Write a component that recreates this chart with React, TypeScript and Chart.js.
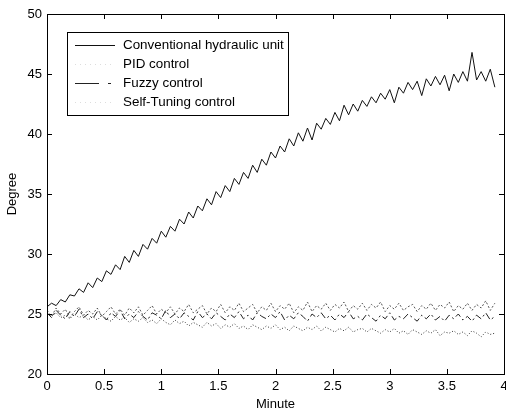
import React, { useEffect, useRef } from "react";
import { Chart, registerables } from "chart.js";
Chart.register(...registerables);

const times = [
  0, 0.04, 0.08, 0.12, 0.16, 0.2, 0.24, 0.28, 0.32, 0.36,
  0.4, 0.44, 0.48, 0.52, 0.56, 0.6, 0.64, 0.68, 0.72, 0.76,
  0.8, 0.84, 0.88, 0.92, 0.96, 1, 1.04, 1.08, 1.12, 1.16,
  1.2, 1.24, 1.28, 1.32, 1.36, 1.4, 1.44, 1.48, 1.52, 1.56,
  1.6, 1.64, 1.68, 1.72, 1.76, 1.8, 1.84, 1.88, 1.92, 1.96,
  2, 2.04, 2.08, 2.12, 2.16, 2.2, 2.24, 2.28, 2.32, 2.36,
  2.4, 2.44, 2.48, 2.52, 2.56, 2.6, 2.64, 2.68, 2.72, 2.76,
  2.8, 2.84, 2.88, 2.92, 2.96, 3, 3.04, 3.08, 3.12, 3.16,
  3.2, 3.24, 3.28, 3.32, 3.36, 3.4, 3.44, 3.48, 3.52, 3.56,
  3.6, 3.64, 3.68, 3.72, 3.76, 3.8, 3.84, 3.88, 3.92,
];

const conventional = [
  25.6, 25.9, 25.7, 26.2, 26.0, 26.6, 26.5, 27.1, 26.8, 27.6,
  27.2, 28.0, 27.7, 28.6, 28.3, 29.1, 28.7, 29.8, 29.3, 30.3,
  29.8, 30.8, 30.4, 31.3, 30.9, 31.9, 31.4, 32.3, 31.9, 32.9,
  32.5, 33.5, 33.0, 34.0, 33.6, 34.6, 34.1, 35.2, 34.7, 35.7,
  35.2, 36.3, 35.8, 36.8, 36.3, 37.4, 36.8, 37.9, 37.4, 38.5,
  38.0, 39.0, 38.5, 39.6, 39.0, 40.1, 39.4, 40.5, 39.5, 40.9,
  40.4, 41.3, 40.8, 41.8, 41.1, 42.4, 41.6, 42.5, 41.9, 42.8,
  42.3, 43.1, 42.6, 43.4, 42.9, 43.7, 42.6, 43.9, 43.4, 44.3,
  43.7, 44.4, 43.2, 44.6, 44.0, 44.8, 44.1, 44.9, 43.6, 45.0,
  44.3, 45.2, 44.4, 46.8, 44.5, 45.2, 44.4, 45.4, 43.9,
];

const pid = [
  25.3, 24.8, 25.5, 25.0, 25.4, 24.7, 25.2, 25.6, 24.9, 25.3,
  25.0, 25.5, 24.8, 25.2, 25.6, 25.0, 25.4, 24.9, 25.5, 25.1,
  25.6, 24.9, 25.3, 25.7, 25.0, 25.4, 25.1, 25.6, 25.0, 25.5,
  25.2, 25.8, 25.1, 25.4, 25.7, 25.0, 25.5, 25.2, 25.8, 25.1,
  25.6, 25.3, 25.9, 25.2, 25.5, 25.8, 25.1, 25.6, 25.3, 25.9,
  25.2, 25.7, 25.4, 25.9, 25.1, 25.6, 25.3, 26.0, 25.2, 25.7,
  25.4, 25.9, 25.3, 25.8, 25.5, 26.0, 25.2, 25.7, 25.4, 25.9,
  25.3, 25.8, 25.5, 26.0, 25.2, 25.7, 25.4, 25.9, 25.3, 25.6,
  25.8, 25.2, 25.7, 25.4, 25.9, 25.3, 25.8, 25.5, 26.0, 25.2,
  25.7, 25.4, 25.9, 25.3, 25.8, 25.5, 26.1, 25.3, 25.9,
];

const fuzzy = [
  25.1, 24.7, 25.3, 24.9, 24.6, 25.2, 24.8, 25.4, 24.7, 25.0,
  24.6, 25.2, 24.9, 24.5, 25.1, 24.8, 25.3, 24.6, 25.0, 24.7,
  25.2, 24.8, 24.5, 25.1, 24.9, 24.6, 25.3, 24.7, 25.0, 24.6,
  25.1, 24.8, 24.5, 25.2, 24.7, 25.0, 24.6, 25.1, 24.8, 24.5,
  25.0, 24.7, 25.2, 24.6, 24.9, 24.5, 25.1, 24.8, 24.6, 25.0,
  24.7, 25.2, 24.5, 24.9, 24.6, 25.1, 24.8, 24.4, 25.0, 24.7,
  25.1, 24.6, 24.9, 24.5, 25.0, 24.7, 25.2, 24.6, 24.8, 24.5,
  25.0, 24.7, 24.4, 24.9, 24.6, 25.1, 24.5, 24.8, 24.6, 25.0,
  24.7, 24.4, 24.9, 24.6, 25.0, 24.5, 24.8, 24.4, 24.9, 24.6,
  25.0, 24.5, 24.8, 24.4, 24.9, 24.6, 25.1, 24.5, 24.8,
];

const selfTuning = [
  25.0, 24.8, 25.1, 24.7, 24.9, 24.6, 25.0, 24.7, 24.9, 24.5,
  24.8, 24.5, 24.9, 24.6, 24.4, 24.8, 24.5, 24.7, 24.3, 24.6,
  24.4, 24.7, 24.3, 24.5, 24.2, 24.6, 24.3, 24.1, 24.5, 24.2,
  24.4, 24.0, 24.3, 24.1, 23.9, 24.3, 24.0, 24.2, 23.8, 24.1,
  23.9, 24.2, 23.8, 24.0, 23.7, 24.1, 23.9, 23.7, 24.0, 23.8,
  24.1, 23.7, 23.9, 23.6, 24.0, 23.8, 23.6, 23.9, 23.7, 24.0,
  23.6, 23.9, 23.7, 23.5, 23.8, 23.6, 23.9, 23.5, 23.7, 23.8,
  23.5, 23.8, 23.6, 23.4, 23.7, 23.5, 23.8, 23.4, 23.6, 23.3,
  23.7, 23.5, 23.3, 23.6, 23.4, 23.7, 23.2, 23.5, 23.4, 23.6,
  23.3, 23.5, 23.2, 23.6, 23.4, 23.1, 23.5, 23.3, 23.4,
];

const seriesNames = [
  "Conventional hydraulic unit",
  "PID control",
  "Fuzzy control",
  "Self-Tuning control",
];
const xTicks = [0, 0.5, 1, 1.5, 2, 2.5, 3, 3.5, 4];
const yTicks = [20, 25, 30, 35, 40, 45, 50];

const FONT = '"Liberation Sans", Arial, Helvetica, sans-serif';

const styles = [
  { color: "#111111", dash: [] as number[], legendDash: [] as number[], legendColor: "#111111" },
  { color: "#555555", dash: [2, 2], legendDash: [1, 4], legendColor: "#dddddd" },
  { color: "#222222", dash: [7, 3, 2, 3], legendDash: [24, 9, 3, 30], legendColor: "#222222" },
  { color: "#333333", dash: [1, 2], legendDash: [1, 4], legendColor: "#dddddd" },
];

export default function App() {
  const ref = useRef<HTMLCanvasElement>(null);

  useEffect(() => {
    document.body.style.margin = "0";
    const canvas = ref.current!;
    const seriesData = [conventional, pid, fuzzy, selfTuning];
    const toPts = (ys: number[]) => ys.map((y, i) => ({ x: times[i], y }));

    const framePlugin = {
      id: "frame",
      afterDatasetsDraw(chart: any) {
        const { ctx, chartArea: a, scales } = chart;
        ctx.save();
        ctx.strokeStyle = "#000";
        ctx.lineWidth = 1;
        ctx.strokeRect(Math.round(a.left) + 0.5, Math.round(a.top) + 0.5, Math.round(a.right - a.left), Math.round(a.bottom - a.top));
        ctx.beginPath();
        const tl = 5;
        xTicks.forEach((v) => {
          const px = Math.round(scales.x.getPixelForValue(v)) + 0.5;
          ctx.moveTo(px, a.bottom);
          ctx.lineTo(px, a.bottom - tl);
          ctx.moveTo(px, a.top);
          ctx.lineTo(px, a.top + tl);
        });
        yTicks.forEach((v) => {
          const py = Math.round(scales.y.getPixelForValue(v)) + 0.5;
          ctx.moveTo(a.left, py);
          ctx.lineTo(a.left + tl, py);
          ctx.moveTo(a.right, py);
          ctx.lineTo(a.right - tl, py);
        });
        ctx.stroke();
        ctx.restore();
      },
      afterDraw(chart: any) {
        const { ctx } = chart;
        ctx.save();
        const bx = 67, by = 32, bw = 221, bh = 83;
        ctx.fillStyle = "#fff";
        ctx.fillRect(bx, by, bw, bh);
        ctx.strokeStyle = "#000";
        ctx.lineWidth = 1;
        ctx.strokeRect(bx + 0.5, by + 0.5, bw, bh);
        const rows = [45, 64, 83, 102];
        ctx.font = `13.4px ${FONT}`;
        ctx.textBaseline = "middle";
        ctx.textAlign = "left";
        rows.forEach((ry, i) => {
          ctx.beginPath();
          ctx.setLineDash(styles[i].legendDash);
          ctx.strokeStyle = styles[i].legendColor;
          ctx.moveTo(75, ry + 0.5);
          ctx.lineTo(115, ry + 0.5);
          ctx.stroke();
          ctx.setLineDash([]);
          ctx.fillStyle = "#000";
          ctx.fillText(seriesNames[i], 123, ry);
        });
        ctx.restore();
      },
    };

    const chart = new Chart(canvas, {
      type: "line",
      data: {
        datasets: seriesData.map((d, i) => ({
          label: seriesNames[i],
          data: toPts(d),
          borderColor: styles[i].color,
          borderDash: styles[i].dash,
          borderWidth: 1,
          pointRadius: 0,
          tension: 0,
          fill: false,
        })),
      },
      options: {
        responsive: false,
        animation: false,
        devicePixelRatio: 1,
        layout: { padding: { top: 14, right: 2, left: 0, bottom: 0 } },
        plugins: { legend: { display: false }, tooltip: { enabled: false } },
        scales: {
          x: {
            type: "linear",
            min: 0,
            max: 4,
            afterBuildTicks: (s: any) => {
              s.ticks = xTicks.map((v) => ({ value: v }));
            },
            afterFit: (s: any) => {
              s.height = 38;
              s.paddingLeft = 0;
              s.paddingRight = 0;
            },
            grid: { display: false, drawTicks: false },
            border: { display: false },
            ticks: {
              padding: 5,
              color: "#000",
              font: { family: FONT, size: 13 },
              maxRotation: 0,
              autoSkip: false,
              callback: (v: any) => String(v),
            },
            title: {
              display: true,
              text: "Minute",
              color: "#000",
              font: { family: FONT, size: 13 },
              padding: { top: 0, bottom: 0 },
            },
          },
          y: {
            type: "linear",
            min: 20,
            max: 50,
            afterBuildTicks: (s: any) => {
              s.ticks = yTicks.map((v) => ({ value: v }));
            },
            afterFit: (s: any) => {
              s.width = 47;
              s.paddingTop = 0;
              s.paddingBottom = 0;
            },
            grid: { display: false, drawTicks: false },
            border: { display: false },
            ticks: {
              padding: 5,
              color: "#000",
              font: { family: FONT, size: 13 },
              autoSkip: false,
              callback: (v: any) => String(v),
            },
            title: {
              display: true,
              text: "Degree",
              color: "#000",
              font: { family: FONT, size: 13 },
              padding: { top: 5, bottom: 0 },
            },
          },
        },
      },
      plugins: [framePlugin],
    });
    return () => chart.destroy();
  }, []);

  return (
    <div style={{ width: 506, height: 412 }}>
      <canvas ref={ref} width={506} height={412} style={{ display: "block" }} />
    </div>
  );
}
